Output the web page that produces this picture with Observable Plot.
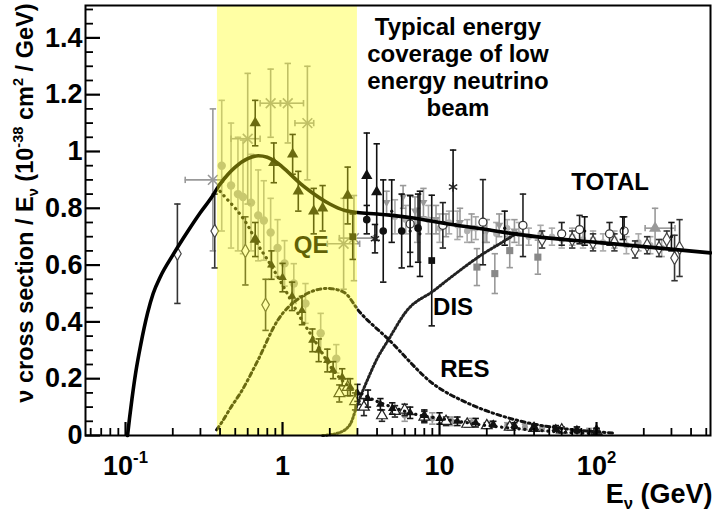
<!DOCTYPE html>
<html><head><meta charset="utf-8">
<script src="https://cdn.jsdelivr.net/npm/d3@7"></script>
<script src="https://cdn.jsdelivr.net/npm/@observablehq/plot@0.6"></script>
<style>
html,body{margin:0;padding:0;background:#fff}
#chart svg{display:block}
</style>
</head><body><div id="chart"></div>
<script>
// ---------------- curves (E in GeV, sigma/E in 1e-38 cm^2/GeV) ----------------
const totalE = [0.103,0.106,0.110,0.116,0.125,0.138,0.150,0.167,0.20,0.25,0.30,0.35,0.40,0.45,0.50,0.60,0.70,0.80,0.90,1.0,1.3,1.5,2.0,2.5,3.0,4,5,7,10,20,30,50,100,200,532];
const totalV = [0,0.06,0.13,0.22,0.32,0.43,0.50,0.56,0.635,0.72,0.785,0.835,0.885,0.92,0.945,0.975,0.985,0.98,0.965,0.945,0.887,0.86,0.815,0.792,0.785,0.78,0.775,0.765,0.75,0.725,0.71,0.695,0.68,0.665,0.643];
const qeE = [0.40,0.43,0.50,0.60,0.70,0.80,1.0,1.3,1.6,2.1,2.7,3.0,4,5,7,10,15,20,30,50,70,100];
const qeV = [0.86,0.84,0.80,0.74,0.67,0.62,0.53,0.415,0.335,0.23,0.17,0.155,0.12,0.10,0.075,0.06,0.045,0.035,0.025,0.015,0.01,0.006];
const resE = [0.38,0.41,0.47,0.54,0.69,0.93,1.3,1.93,2.45,3.1,4.7,9.2,15,24.5,40,60,106,130];
const resV = [0.02,0.046,0.10,0.15,0.26,0.405,0.486,0.518,0.505,0.435,0.34,0.18,0.115,0.07,0.04,0.025,0.012,0.008];
const disE = [1.8,2.3,2.7,3.0,3.5,4.0,4.7,6.2,9.2,12,19,25,31];
const disV = [0,0.01,0.04,0.11,0.2,0.27,0.335,0.44,0.51,0.56,0.64,0.68,0.712];

// ---------------- shaded band (typical low-energy beam coverage) ----------------
const bandLo = [0.385];
const bandHi = [3.0];

// ---------------- axis ticks ----------------
const xTickValues = [0.1, 1, 10, 100];
const xTickLabels = ["10^-1", "1", "10", "10^2"];
const yTickValues = [0, 0.2, 0.4, 0.6, 0.8, 1, 1.2, 1.4];
const yTickLabels = ["0", "0.2", "0.4", "0.6", "0.8", "1", "1.2", "1.4"];

// ---------------- measurements ----------------
// light grey filled circles (QE)
const circGreyE = [0.41,0.47,0.52,0.56,0.63,0.70,0.76,0.84,0.93,1.03,1.18,1.40,1.75,2.2];
const circGreyV = [0.95,0.88,0.85,0.84,0.82,0.775,0.757,0.715,0.66,0.606,0.535,0.465,0.36,0.27];
const circGreyD = [0.23,0.22,0.20,0.20,0.17,0.16,0.14,0.12,0.10,0.08,0.07,0.07,0.07,0.05];
// grey crosses with horizontal error bars
const crossE   = [0.36,0.60,0.84,1.08,1.44,2.45,2.85];
const crossElo = [0.24,0.47,0.72,0.97,1.20,1.93,2.30];
const crossEhi = [0.42,0.72,0.97,1.36,1.58,3.10,3.80];
const crossV   = [0.90,1.045,1.17,1.17,1.10,0.675,0.695];
const crossD   = [0.25,0.23,0.12,0.14,0.20,0.16,0.15];
// black filled triangles
const triBlkE = [0.67,0.67,0.88,1.16,1.26,1.58,1.80,2.6,3.44,3.98];
const triBlkV = [1.10,0.69,0.96,0.99,0.86,0.79,0.80,0.845,0.915,0.857];
const triBlkD = [0.08,0.06,0.07,0.07,0.07,0.08,0.08,0.10,0.15,0.17];
// black filled circles
const circBlkE = [3.44,4.38,5.74,7.3];
const circBlkV = [0.76,0.72,0.72,0.73];
const circBlkD = [0.05,0.18,0.13,0.12];
// black filled squares
const sqBlkE = [2.8,8.92];
const sqBlkV = [0.70,0.616];
const sqBlkD = [0.08,0.23];
// grey filled squares
const sqGreyE = [17.3,22.5,28,42.3];
const sqGreyV = [0.593,0.57,0.651,0.628];
const sqGreyD = [0.065,0.07,0.06,0.06];
// grey inverted triangles
const invTriE = [4.6,5.86,6.98,7.9,9.5,11,13.5,16,20,24,30];
const invTriV = [0.82,0.84,0.79,0.82,0.76,0.74,0.75,0.73,0.72,0.74,0.72];
const invTriD = [0.04,0.04,0.05,0.05,0.05,0.04,0.05,0.05,0.04,0.04,0.04];
// black asterisks
const starE = [3.88,12.2];
const starV = [0.693,0.875];
const starD = [0.05,0.13];
// open circles
const openCircE = [6.5,10.5,18.9,34,60,78,121,150];
const openCircV = [0.745,0.74,0.751,0.74,0.71,0.725,0.71,0.72];
const openCircD = [0.10,0.08,0.15,0.11,0.04,0.05,0.04,0.05];
// open diamonds
const openDiaE = [0.214,0.37,0.58,0.78,45,70,95,130,176,210,250,280,314,338];
const openDiaV = [0.64,0.72,0.65,0.46,0.69,0.69,0.68,0.68,0.655,0.67,0.66,0.69,0.625,0.66];
const openDiaD = [0.175,0.13,0.12,0.09,0.03,0.03,0.03,0.03,0.03,0.03,0.03,0.03,0.08,0.10];
// grey triangle with horizontal bars (high energy)
const triHE = [236];
const triHElo = [204];
const triHEhi = [316];
const triHV = [0.73];
const triHD = [0.07];
// black error bars with small markers
const barBlkE = [4.96,6.5,7.5,26,84,147,300];
const barBlkV = [0.79,0.72,0.71,0.73,0.72,0.73,0.70];
const barBlkD = [0.11,0.125,0.15,0.06,0.05,0.04,0.05];
// grey total points
const greyTotE = [5.2,6.1,7.2,8.5,10,11.5,13,15,17,19.5,23,27,32,37,44,52,60,70,82,95,110,130,155,185,220,260];
const greyTotV = [0.77,0.76,0.74,0.76,0.73,0.75,0.74,0.72,0.73,0.72,0.71,0.73,0.71,0.70,0.71,0.70,0.69,0.70,0.69,0.69,0.68,0.69,0.67,0.68,0.67,0.66];
const greyTotD = [0.06,0.05,0.06,0.05,0.05,0.04,0.05,0.04,0.04,0.04,0.04,0.03,0.04,0.03,0.03,0.03,0.03,0.03,0.03,0.03,0.03,0.03,0.03,0.03,0.03,0.03];
// small black triangles along QE
const triQEE = [0.85,1.0,1.15,1.33,1.55,1.7,1.93,2.1,2.4,2.7,3.0,3.5,4.2,5.0,6.5,8,10,13,17,22,30,40,55,75,100];
const triQEV = [0.60,0.556,0.49,0.44,0.335,0.30,0.264,0.23,0.205,0.17,0.15,0.13,0.11,0.095,0.08,0.07,0.06,0.05,0.045,0.04,0.035,0.03,0.025,0.02,0.015];
const triQED = [0.05,0.05,0.05,0.05,0.04,0.04,0.04,0.03,0.03,0.03,0.03,0.03,0.02,0.02,0.02,0.02,0.02,0.015,0.015,0.01,0.01,0.01,0.01,0.01,0.01];
// open triangles (QE)
const openTriE = [2.3,2.6,2.9,3.3,4.3,5.2,6,8,11,15,20,28,40,60,100];
const openTriV = [0.148,0.17,0.12,0.10,0.07,0.085,0.09,0.065,0.05,0.04,0.035,0.03,0.025,0.02,0.015];
const openTriD = [0.03,0.03,0.03,0.03,0.02,0.02,0.02,0.02,0.015,0.01,0.01,0.01,0.01,0.01,0.01];
// grey small circles at low values
const greyLowE = [6,9,12,16,21,27,35,45,58,75,90];
const greyLowV = [0.07,0.06,0.05,0.045,0.04,0.035,0.03,0.025,0.02,0.02,0.015];
const greyLowD = [0.02,0.02,0.015,0.015,0.01,0.01,0.01,0.01,0.01,0.01,0.01];

// ---------------- helpers ----------------
const W = 712, H = 516, ML = 85, MR = 2, MT = 5, MB = 81;
const frameH = H - MT - MB, frameW = W - ML - MR;
const xDomain = [0.0556, 532];
const yDomain = [0, 1.514];
const cap = {draw(c){c.moveTo(-3.2,0);c.lineTo(3.2,0);}};
const vcap = {draw(c){c.moveTo(0,-3.2);c.lineTo(0,3.2);}};
const invTriangle = {draw(c, size){const s=Math.sqrt(size/Math.PI);c.moveTo(-s,-0.65*s);c.lineTo(s,-0.65*s);c.lineTo(0,1.1*s);c.closePath();}};

function pts(E, V, D, lo, hi) {
  return E.map((e,i)=>({E:e, v:V[i], d:D?D[i]:0, lo: lo?lo[i]:null, hi: hi?hi[i]:null}));
}
function seriesMarks(data, o) {
  const bc = o.barColor, m = [];
  const withErr = data.filter(p=>p.d>0);
  m.push(Plot.ruleX(withErr, {x:"E", y1:p=>Math.max(0,p.v-p.d), y2:p=>p.v+p.d, stroke:bc, strokeWidth:1.6}));
  m.push(Plot.dot(withErr, {x:"E", y:p=>p.v+p.d, symbol:cap, fill:"none", stroke:bc, strokeWidth:1.6}));
  m.push(Plot.dot(withErr.filter(p=>p.v-p.d>0.005), {x:"E", y:p=>p.v-p.d, symbol:cap, fill:"none", stroke:bc, strokeWidth:1.6}));
  const withH = data.filter(p=>p.lo!=null);
  if (withH.length) {
    m.push(Plot.ruleY(withH, {y:"v", x1:"lo", x2:"hi", stroke:bc, strokeWidth:1.6}));
    m.push(Plot.dot(withH, {x:"lo", y:"v", symbol:vcap, fill:"none", stroke:bc, strokeWidth:1.6}));
    m.push(Plot.dot(withH, {x:"hi", y:"v", symbol:vcap, fill:"none", stroke:bc, strokeWidth:1.6}));
  }
  m.push(Plot.dot(data, {x:"E", y:"v", symbol:o.symbol, r:o.r, fill:o.fill, stroke:o.stroke||"none", strokeWidth:o.sw||1.2}));
  return m;
}

// minor tick positions
const xMinorValues = [];
for (const dec of [0.01,0.1,1,10,100]) for (let k=2;k<=9;k++){const v=k*dec; if(v>xDomain[0]&&v<xDomain[1]) xMinorValues.push(v);}
const yMinorValues = d3.range(0, 1.5001, 0.05).filter(v=>Math.abs(v/0.2-Math.round(v/0.2))>1e-6);

const annotations = [
  {text:"TOTAL", E:122, v:0.891},
  {text:"DIS", E:12.2, v:0.45},
  {text:"RES", E:14.5, v:0.232}
];
const beamNote = [{text:"Typical energy\ncoverage of low\nenergy neutrino\nbeam", E:13.1, v:1.479}];
const qeNote = [{text:"QE", E:1.52, v:0.669}];

const font = "'Liberation Sans', Arial, Helvetica, sans-serif";

const chart = Plot.plot({
  width: W, height: H,
  marginLeft: ML, marginRight: MR, marginTop: MT, marginBottom: MB,
  x: {type:"log", domain:xDomain},
  y: {domain:yDomain},
  style: {fontFamily: font, fontWeight: "bold", background: "white", color: "black"},
  marks: [
    ...seriesMarks(pts(circGreyE,circGreyV,circGreyD), {symbol:"circle", r:4.2, fill:"#a8a8a8", barColor:"#a8a8a8"}),
    ...seriesMarks(pts(crossE,crossV,crossD,crossElo,crossEhi), {symbol:"times", r:4.5, fill:"none", stroke:"#999", sw:1.6, barColor:"#999"}),
    ...seriesMarks(pts(greyTotE,greyTotV,greyTotD), {symbol:"circle", r:3.2, fill:"#b0b0b0", barColor:"#aaa"}),
    ...seriesMarks(pts(invTriE,invTriV,invTriD), {symbol:invTriangle, r:4, fill:"#999", barColor:"#999"}),
    ...seriesMarks(pts(sqGreyE,sqGreyV,sqGreyD), {symbol:"square", r:4, fill:"#888", barColor:"#999"}),
    ...seriesMarks(pts(triHE,triHV,triHD,triHElo,triHEhi), {symbol:"triangle", r:4.5, fill:"#999", barColor:"#999"}),
    ...seriesMarks(pts(greyLowE,greyLowV,greyLowD), {symbol:"circle", r:3, fill:"#999", barColor:"#999"}),
    ...seriesMarks(pts(openTriE,openTriV,openTriD), {symbol:"triangle", r:4, fill:"white", stroke:"#222", barColor:"#222"}),
    ...seriesMarks(pts(triQEE,triQEV,triQED), {symbol:"triangle", r:3.2, fill:"#111", barColor:"#111"}),
    ...seriesMarks(pts(openDiaE,openDiaV,openDiaD), {symbol:"diamond", r:4, fill:"white", stroke:"#444", barColor:"#333"}),
    ...seriesMarks(pts(openCircE,openCircV,openCircD), {symbol:"circle", r:4, fill:"white", stroke:"#333", barColor:"#222"}),
    ...seriesMarks(pts(barBlkE,barBlkV,barBlkD), {symbol:"circle", r:1.6, fill:"#111", barColor:"#111"}),
    ...seriesMarks(pts(triBlkE,triBlkV,triBlkD), {symbol:"triangle", r:4.2, fill:"#111", barColor:"#111"}),
    ...seriesMarks(pts(circBlkE,circBlkV,circBlkD), {symbol:"circle", r:3.8, fill:"#111", barColor:"#111"}),
    ...seriesMarks(pts(sqBlkE,sqBlkV,sqBlkD), {symbol:"square", r:3.8, fill:"#111", barColor:"#111"}),
    ...seriesMarks(pts(starE,starV,starD), {symbol:"asterisk", r:4.5, fill:"none", stroke:"#222", sw:1.5, barColor:"#111"}),
    // model curves
    Plot.line(disE.map((e,i)=>({E:e,v:disV[i]})), {x:"E", y:"v", curve:"monotone-x", stroke:"#222", strokeWidth:3, strokeDasharray:"1.3,2.4"}),
    Plot.line(resE.map((e,i)=>({E:e,v:resV[i]})), {x:"E", y:"v", curve:"monotone-x", stroke:"#111", strokeWidth:3, strokeDasharray:"4,3.5,1.6,3.5"}),
    Plot.line(qeE.map((e,i)=>({E:e,v:qeV[i]})), {x:"E", y:"v", curve:"monotone-x", stroke:"#111", strokeWidth:3.2, strokeLinecap:"round", strokeDasharray:"0.3,5.5"}),
    Plot.line(totalE.map((e,i)=>({E:e,v:totalV[i]})), {x:"E", y:"v", curve:"monotone-x", stroke:"black", strokeWidth:3.6}),
    Plot.text(qeNote, {x:"E", y:"v", text:"text", fontSize:24, fontWeight:"bold", fill:"black", textAnchor:"middle", lineAnchor:"middle"}),
    // shaded band drawn over everything in it (tints it olive)
    Plot.rect(bandLo.map((lo,i)=>({lo, hi:bandHi[i]})), {x1:"lo", x2:"hi", fill:"#ffff10", fillOpacity:0.38}),
    Plot.text(annotations, {x:"E", y:"v", text:"text", fontSize:24, fontWeight:"bold", fill:"black", textAnchor:"middle", lineAnchor:"middle"}),
    Plot.text(beamNote, {x:"E", y:"v", text:"text", fontSize:24, fontWeight:"bold", fill:"black", textAnchor:"middle", lineAnchor:"top", lineHeight:1.125}),
    Plot.frame({stroke:"black", strokeWidth:2}),
    // inward ROOT-style ticks
    Plot.ruleX(xTickValues, {x:d=>d, insetTop:frameH-13, stroke:"black", strokeWidth:2.2}),
    Plot.ruleX(xMinorValues, {x:d=>d, insetTop:frameH-7, stroke:"black", strokeWidth:1.8}),
    Plot.ruleY(yTickValues, {y:d=>d, insetRight:frameW-15, stroke:"black", strokeWidth:2.2}),
    Plot.ruleY(yMinorValues, {y:d=>d, insetRight:frameW-8, stroke:"black", strokeWidth:1.8}),
    Plot.axisX({ticks:xTickValues, tickFormat:d=>xTickLabels[xTickValues.indexOf(d)], tickSize:0, tickPadding:20, fontSize:27, fontWeight:"bold", label:null}),
    Plot.axisY({ticks:yTickValues, tickFormat:d=>yTickLabels[yTickValues.indexOf(d)], tickSize:0, tickPadding:3, fontSize:27, fontWeight:"bold", label:null}),
    Plot.text(["ν cross section / Eν (10-38 cm2 / GeV)"], {frameAnchor:"top-left", text:d=>d, rotate:-90, textAnchor:"end", lineAnchor:"middle", dx:-60, dy:-2, fontSize:23.5, fontWeight:"bold", fill:"black"}),
    Plot.text(["Eν (GeV)"], {frameAnchor:"bottom-right", text:d=>d, textAnchor:"end", lineAnchor:"middle", dx:2, dy:59, fontSize:27, fontWeight:"bold", fill:"black"})
  ]
});
document.getElementById("chart").appendChild(chart);

// ---------- rich text (superscripts / subscripts) ----------
function rich(el, parts) {
  const fs = parseFloat(getComputedStyle(el).fontSize) || 24;
  while (el.firstChild) el.removeChild(el.firstChild);
  let off = 0;
  for (const p of parts) {
    const t = document.createElementNS("http://www.w3.org/2000/svg", "tspan");
    const target = p.sup ? -0.42*fs : p.sub ? 0.22*fs : 0;
    if (target !== off) t.setAttribute("dy", (target - off).toFixed(2));
    off = target;
    if (p.sup || p.sub) t.setAttribute("font-size", (0.62*fs).toFixed(1));
    t.textContent = p.t;
    el.appendChild(t);
  }
}
const richMap = {
  "10^-1": [{t:"10"},{t:"-1",sup:true}],
  "10^2": [{t:"10"},{t:"2",sup:true}],
  "ν cross section / Eν (10-38 cm2 / GeV)": [{t:"ν cross section / E"},{t:"ν",sub:true},{t:" (10"},{t:"-38",sup:true},{t:" cm"},{t:"2",sup:true},{t:" / GeV)"}],
  "Eν (GeV)": [{t:"E"},{t:"ν",sub:true},{t:" (GeV)"}]
};
chart.querySelectorAll("text").forEach(el => {
  const k = el.textContent;
  if (richMap[k]) rich(el, richMap[k]);
});
</script>
</body></html>
